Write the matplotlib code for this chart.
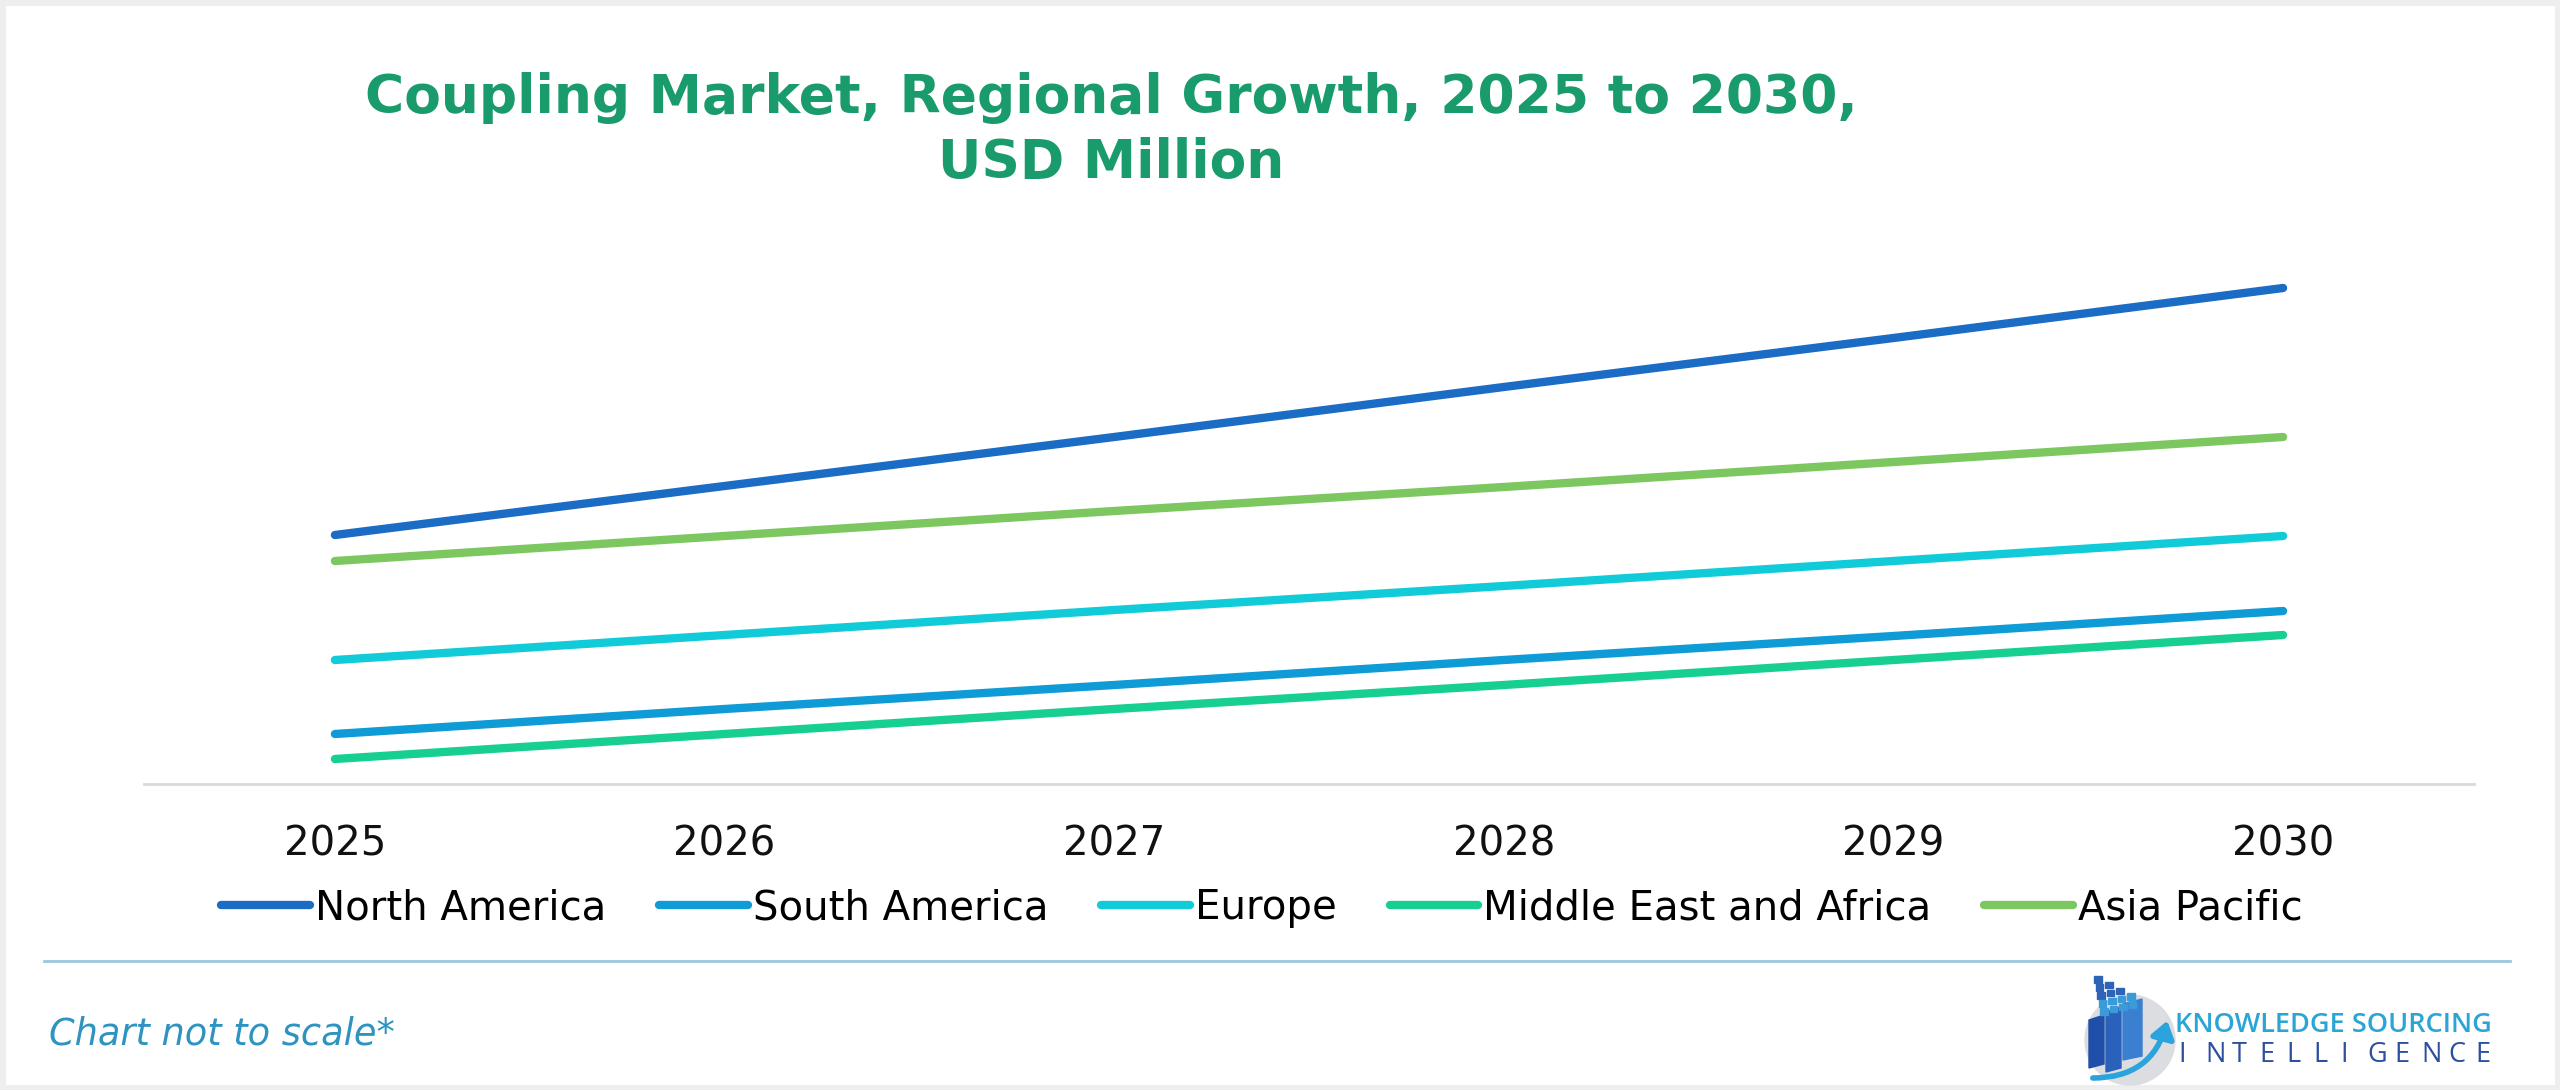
import numpy as np
import matplotlib.pyplot as plt
from matplotlib.patches import Circle, Rectangle, Polygon, FancyArrowPatch

# values (chart not to scale, arbitrary units)
years = [2025, 2026, 2027, 2028, 2029, 2030]
north_america = [24.9, 29.8, 34.7, 39.7, 44.6, 49.6]
south_america = [5.0, 7.5, 9.9, 12.4, 14.8, 17.3]
europe = [12.4, 14.9, 17.4, 19.8, 22.3, 24.8]
mea = [2.5, 5.0, 7.5, 9.9, 12.4, 14.9]
asia_pacific = [22.3, 24.8, 27.3, 29.7, 32.2, 34.7]

series = [
    ('North America', north_america, '#1a6cc4'),
    ('South America', south_america, '#0f9bd6'),
    ('Europe', europe, '#12cbd8'),
    ('Middle East and Africa', mea, '#17cf91'),
    ('Asia Pacific', asia_pacific, '#7cc75f'),
]

W, H = 2560, 1090
fig = plt.figure(figsize=(W / 100, H / 100), dpi=100)
fig.patch.set_facecolor('white')

# thin grey frame round the picture
frame = fig.add_axes([0, 0, 1, 1])
frame.set_xlim(0, W)
frame.set_ylim(H, 0)
frame.axis('off')
frame.add_patch(Rectangle((0, 0), W, H, fill=False, edgecolor='#eeeeee', linewidth=8))

ax = fig.add_axes([144 / W, (H - 784) / H, (2474 - 144) / W, (784 - 200) / H])
x = np.arange(len(years))
for name, vals, col in series:
    ax.plot(x, vals, color=col, linewidth=6, solid_capstyle='round', label=name)

ax.set_xlim(-0.49, len(years) - 1 + 0.49)
ax.set_ylim(0, 58.4)
ax.set_xticks(x)
ax.set_xticklabels([str(y) for y in years], fontsize=29, color='#111111')
ax.tick_params(axis='x', length=0, pad=29)
ax.set_yticks([])
for s in ['top', 'right', 'left']:
    ax.spines[s].set_visible(False)
ax.spines['bottom'].set_color('#d9d9d9')
ax.spines['bottom'].set_linewidth(2)
ax.patch.set_alpha(0)

fig.legend(loc='center', bbox_to_anchor=(1262 / W, (H - 908) / H), ncol=5,
           frameon=False, fontsize=29, handlelength=2.2, handletextpad=0.12,
           columnspacing=1.32)

fig.text(1111 / W, (H - 98) / H, 'Coupling Market, Regional Growth, 2025 to 2030,',
         ha='center', va='center', fontsize=38.5, fontweight='bold', color='#1a9b6c')
fig.text(1111 / W, (H - 163) / H, 'USD Million',
         ha='center', va='center', fontsize=38.5, fontweight='bold', color='#1a9b6c')

# footer
frame.plot([44, 2510], [961, 961], color='#9cc8dc', linewidth=2)
frame.text(49, 1034, 'Chart not to scale*', fontsize=26.5, style='italic',
           color='#2e93c0', va='center', ha='left')

# logo emblem
frame.add_patch(Circle((2130, 1040), 45, color='#dcdde0', zorder=2))
cols = [(2089, 15, 1020, 1068), (2106, 15, 1012, 1072), (2123, 19, 1004, 1060)]
shades = ['#1f4fa8', '#2a62bb', '#3a7fd0']
for (cx, w, top, bot), sh in zip(cols, shades):
    frame.add_patch(Polygon([(cx, top), (cx + w, top - 5), (cx + w, bot - 4), (cx, bot)],
                            closed=True, color=sh, zorder=3))
rows = [1, 2, 3, 4, 4]
for r, n in enumerate(rows):
    for c in range(n):
        sq = '#2f63b5' if r < 3 else '#3b9ad8'
        frame.add_patch(Rectangle((2094 + c * 9.5 + r * 1.5, 976 + r * 8 - c * 2.2), 7.5, 6.5,
                                  color=sq, zorder=3))
frame.add_patch(FancyArrowPatch((2090, 1078), (2168, 1018), connectionstyle='arc3,rad=0.4',
                                arrowstyle='-|>,head_width=7,head_length=10', color='#2ba3dc',
                                linewidth=4, zorder=4))

# logo text
frame.text(2175, 1025, 'KNOWLEDGE SOURCING', fontsize=19.5, color='#2aa5d6',
           family='Open Sans', fontweight='semibold', va='center', ha='left')
for i, ch in enumerate('INTELLIGENCE'):
    frame.text(2178 + i * 27, 1055, ch, fontsize=19.5, color='#2c4f9e',
               family='Open Sans', va='center', ha='left')

fig.savefig('out.png', dpi=100, facecolor='white')
